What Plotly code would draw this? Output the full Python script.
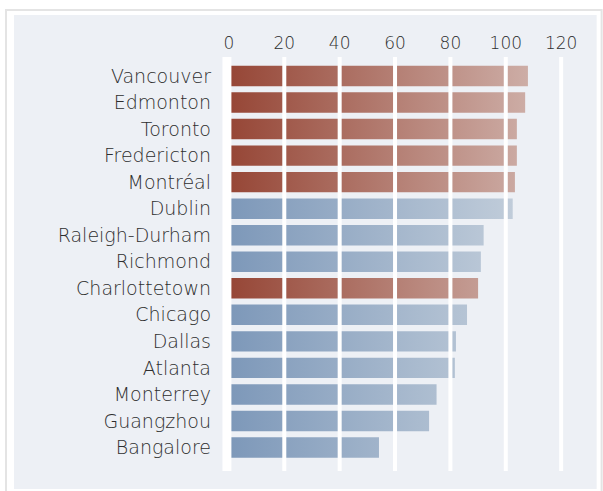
import plotly.graph_objects as go

# ---- data ----
cities = ["Vancouver", "Edmonton", "Toronto", "Fredericton", "Montréal", "Dublin",
          "Raleigh-Durham", "Richmond", "Charlottetown", "Chicago", "Dallas",
          "Atlanta", "Monterrey", "Guangzhou", "Bangalore"]
values = [108, 107, 104, 104, 103.3, 102.5, 92, 91, 90, 86, 82, 81.6, 75, 72.3, 54.2]
groups = ["ca", "ca", "ca", "ca", "ca", "intl", "intl", "intl", "ca", "intl",
          "intl", "intl", "intl", "intl", "intl"]
x_ticks = [0, 20, 40, 60, 80, 100, 120]

# ---- styling ----
W, H = 603, 491
FONT = "DejaVu Sans"
TXT = "#2e2e2e"
PANEL = "#edf0f5"
grad = {
    "ca": [[0, "rgb(150,70,54)"], [1, "rgb(206,175,168)"]],
    "intl": [[0, "rgb(125,152,185)"], [1, "rgb(197,208,220)"]],
}
BAR_HALF = 0.385

XR = [-2.5, 125]
YR = [len(cities) - 1 + 0.885, -0.716]
ML, MT, MB = 221.5, 57, 20
PW = (XR[1] - XR[0]) * 2.775
MR = W - ML - PW
PH = H - MT - MB

def px(xp):
    return (xp - ML) / PW

def py(yp):
    return 1 - (yp - MT) / PH

fig = go.Figure()
for i, (c, v, g) in enumerate(zip(cities, values, groups)):
    fig.add_trace(go.Scatter(
        x=[0, v, v, 0, 0],
        y=[i - BAR_HALF, i - BAR_HALF, i + BAR_HALF, i + BAR_HALF, i - BAR_HALF],
        mode="lines", fill="toself", line=dict(width=0, color="rgba(0,0,0,0)"),
        fillgradient=dict(type="horizontal", start=0, stop=110, colorscale=grad[g]),
        hoverinfo="skip", showlegend=False, name=c,
    ))

shapes = []
# card background
shapes.append(dict(type="rect", xref="paper", yref="paper",
                   x0=px(5), x1=px(602), y0=py(520), y1=py(10),
                   fillcolor="white", line=dict(color="#e4e4e4", width=2), layer="below"))
shapes.append(dict(type="rect", xref="paper", yref="paper",
                   x0=px(13), x1=px(597), y0=py(489), y1=py(15),
                   fillcolor=PANEL, line=dict(width=0), layer="below"))
# gridlines above bars
for t in x_ticks:
    if t == 0:
        shapes.append(dict(type="rect", xref="x", yref="paper", x0=-2.34, x1=0.9,
                           y0=0, y1=1, fillcolor="white", line=dict(width=0), layer="above"))
    else:
        shapes.append(dict(type="line", xref="x", yref="paper", x0=t, x1=t,
                           y0=0, y1=1, line=dict(color="white", width=4), layer="above"))

xf = dict(family=FONT, size=17, color=TXT, weight=200)
yf = dict(family=FONT, size=19, color=TXT, weight=200)
fig.update_layout(
    width=W, height=H,
    margin=dict(l=ML, r=MR, t=MT, b=MB, pad=0),
    paper_bgcolor="white", plot_bgcolor="rgba(0,0,0,0)",
    font=xf,
    shapes=shapes,
    xaxis=dict(side="top", range=XR, tickvals=x_ticks, ticktext=[str(t) for t in x_ticks],
               showgrid=False, zeroline=False, showline=False, ticks="",
               ticklabelstandoff=4, tickfont=xf, fixedrange=True),
    yaxis=dict(range=YR, tickvals=list(range(len(cities))), ticktext=cities,
               showgrid=False, zeroline=False, showline=False, ticks="",
               ticklabelstandoff=10, tickfont=yf, fixedrange=True),
)

fig.write_html("out.html", config={"displayModeBar": False},
               post_script="document.body.style.margin='0';")
